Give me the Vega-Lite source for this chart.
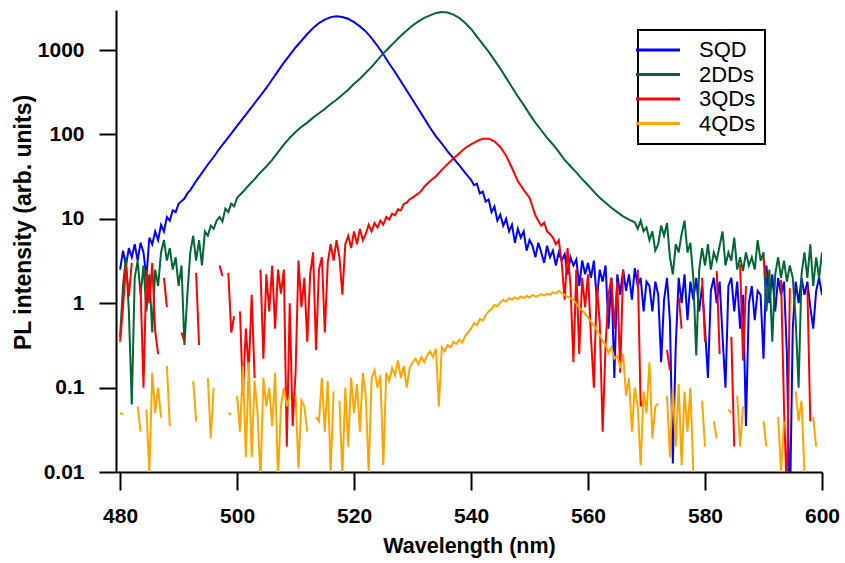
{
"$schema":"https://vega.github.io/schema/vega-lite/v6.json",
"width":706,"height":462,
"autosize":{"type":"none"},
"padding":{"left":116,"top":10,"right":23,"bottom":91},
"background":"white",
"data":{"values":[
{"s":"SQD","w":480,"v":2.5},{"s":"SQD","w":480.5,"v":4.2},{"s":"SQD","w":481,"v":2.8},{"s":"SQD","w":481.5,"v":4.5},{"s":"SQD","w":482,"v":3.5},{"s":"SQD","w":482.5,"v":5.0},{"s":"SQD","w":483,"v":3.2},{"s":"SQD","w":483.5,"v":5.2},{"s":"SQD","w":484,"v":4.0},{"s":"SQD","w":484.5,"v":2.0},{"s":"SQD","w":485,"v":6.0},{"s":"SQD","w":485.5,"v":5.0},{"s":"SQD","w":486,"v":7.1},{"s":"SQD","w":486.5,"v":5.6},{"s":"SQD","w":487,"v":8.5},{"s":"SQD","w":487.5,"v":7.1},{"s":"SQD","w":488,"v":10.5},{"s":"SQD","w":488.5,"v":9.5},{"s":"SQD","w":489,"v":12.6},{"s":"SQD","w":489.5,"v":12.0},{"s":"SQD","w":490,"v":15.1},{"s":"SQD","w":491,"v":17.4},{"s":"SQD","w":491.5,"v":20},{"s":"SQD","w":492,"v":21.9},{"s":"SQD","w":493,"v":28},{"s":"SQD","w":494,"v":35},{"s":"SQD","w":495,"v":44},{"s":"SQD","w":496,"v":54},{"s":"SQD","w":497,"v":68},{"s":"SQD","w":498,"v":83},{"s":"SQD","w":499,"v":102},{"s":"SQD","w":500,"v":126},{"s":"SQD","w":501,"v":155},{"s":"SQD","w":502,"v":190},{"s":"SQD","w":503,"v":234},{"s":"SQD","w":504,"v":288},{"s":"SQD","w":505,"v":355},{"s":"SQD","w":506,"v":447},{"s":"SQD","w":507,"v":562},{"s":"SQD","w":508,"v":708},{"s":"SQD","w":509,"v":871},{"s":"SQD","w":510,"v":1072},{"s":"SQD","w":511,"v":1288},{"s":"SQD","w":512,"v":1549},{"s":"SQD","w":513,"v":1820},{"s":"SQD","w":514,"v":2089},{"s":"SQD","w":515,"v":2291},{"s":"SQD","w":516,"v":2455},{"s":"SQD","w":517,"v":2512},{"s":"SQD","w":518,"v":2455},{"s":"SQD","w":519,"v":2344},{"s":"SQD","w":520,"v":2138},{"s":"SQD","w":521,"v":1905},{"s":"SQD","w":522,"v":1660},{"s":"SQD","w":523,"v":1380},{"s":"SQD","w":524,"v":1122},{"s":"SQD","w":525,"v":891},{"s":"SQD","w":526,"v":692},{"s":"SQD","w":527,"v":550},{"s":"SQD","w":528,"v":427},{"s":"SQD","w":529,"v":331},{"s":"SQD","w":530,"v":257},{"s":"SQD","w":531,"v":200},{"s":"SQD","w":532,"v":155},{"s":"SQD","w":533,"v":120},{"s":"SQD","w":534,"v":95},{"s":"SQD","w":535,"v":78},{"s":"SQD","w":536,"v":63},{"s":"SQD","w":537,"v":52},{"s":"SQD","w":538,"v":43},{"s":"SQD","w":539,"v":35},{"s":"SQD","w":540,"v":29},{"s":"SQD","w":540.5,"v":25},{"s":"SQD","w":541,"v":26},{"s":"SQD","w":541.5,"v":20},{"s":"SQD","w":542,"v":21},{"s":"SQD","w":542.5,"v":16},{"s":"SQD","w":543,"v":17},{"s":"SQD","w":543.5,"v":12},{"s":"SQD","w":544,"v":14},{"s":"SQD","w":544.5,"v":9.5},{"s":"SQD","w":545,"v":11.2},{"s":"SQD","w":545.5,"v":8.3},{"s":"SQD","w":546,"v":10},{"s":"SQD","w":546.5,"v":7.1},{"s":"SQD","w":547,"v":8.5},{"s":"SQD","w":547.5,"v":5.2},{"s":"SQD","w":548,"v":7.6},{"s":"SQD","w":548.5,"v":6.0},{"s":"SQD","w":549,"v":7.1},{"s":"SQD","w":549.5,"v":4.2},{"s":"SQD","w":550,"v":5.6},{"s":"SQD","w":550.5,"v":4.8},{"s":"SQD","w":551,"v":3.5},{"s":"SQD","w":551.5,"v":5.2},{"s":"SQD","w":552,"v":4.0},{"s":"SQD","w":552.5,"v":3.0},{"s":"SQD","w":553,"v":4.8},{"s":"SQD","w":553.5,"v":3.5},{"s":"SQD","w":554,"v":4.2},{"s":"SQD","w":554.5,"v":2.8},{"s":"SQD","w":555,"v":4.0},{"s":"SQD","w":555.5,"v":3.2},{"s":"SQD","w":556,"v":3.8},{"s":"SQD","w":556.5,"v":2.2},{"s":"SQD","w":557,"v":3.5},{"s":"SQD","w":557.5,"v":2.8},{"s":"SQD","w":558,"v":3.3},{"s":"SQD","w":558.5,"v":1.6},{"s":"SQD","w":559,"v":3.2},{"s":"SQD","w":559.5,"v":2.2},{"s":"SQD","w":560,"v":3.0},{"s":"SQD","w":560.5,"v":2.0},{"s":"SQD","w":561,"v":3.2},{"s":"SQD","w":561.5,"v":1.1},{"s":"SQD","w":562,"v":2.5},{"s":"SQD","w":562.5,"v":1.8},{"s":"SQD","w":563,"v":2.8},{"s":"SQD","w":563.5,"v":0.5},{"s":"SQD","w":564,"v":2.0},{"s":"SQD","w":564.5,"v":0.13},{"s":"SQD","w":565,"v":2.2},{"s":"SQD","w":565.5,"v":1.26},{"s":"SQD","w":566,"v":2.5},{"s":"SQD","w":566.5,"v":1.4},{"s":"SQD","w":567,"v":2.2},{"s":"SQD","w":567.5,"v":1.1},{"s":"SQD","w":568,"v":2.6},{"s":"SQD","w":568.5,"v":1.6},{"s":"SQD","w":569,"v":2.0},{"s":"SQD","w":569.5,"v":0.8},{"s":"SQD","w":570,"v":1.8},{"s":"SQD","w":570.5,"v":1.6},{"s":"SQD","w":571,"v":0.8},{"s":"SQD","w":571.5,"v":1.8},{"s":"SQD","w":572,"v":1.26},{"s":"SQD","w":572.5,"v":0.2},{"s":"SQD","w":573,"v":1.1},{"s":"SQD","w":573.5,"v":2.0},{"s":"SQD","w":574,"v":0.63},{"s":"SQD","w":574.5,"v":0.0126},{"s":"SQD","w":575,"v":0.32},{"s":"SQD","w":575.5,"v":2.0},{"s":"SQD","w":576,"v":1.0},{"s":"SQD","w":576.5,"v":2.2},{"s":"SQD","w":577,"v":0.63},{"s":"SQD","w":577.5,"v":1.8},{"s":"SQD","w":578,"v":1.1},{"s":"SQD","w":578.5,"v":2.0},{"s":"SQD","w":579,"v":0.8},{"s":"SQD","w":579.5,"v":1.6},{"s":"SQD","w":580,"v":0.5},{"s":"SQD","w":580.5,"v":0.13},{"s":"SQD","w":581,"v":1.4},{"s":"SQD","w":581.5,"v":2.0},{"s":"SQD","w":582,"v":1.0},{"s":"SQD","w":582.5,"v":1.8},{"s":"SQD","w":583,"v":0.4},{"s":"SQD","w":583.5,"v":0.1},{"s":"SQD","w":584,"v":1.6},{"s":"SQD","w":584.5,"v":2.0},{"s":"SQD","w":585,"v":0.8},{"s":"SQD","w":585.5,"v":1.8},{"s":"SQD","w":586,"v":0.5},{"s":"SQD","w":586.5,"v":1.26},{"s":"SQD","w":587,"v":0.035},{"s":"SQD","w":587.5,"v":1.0},{"s":"SQD","w":588,"v":1.6},{"s":"SQD","w":588.5,"v":0.63},{"s":"SQD","w":589,"v":1.4},{"s":"SQD","w":589.5,"v":1.26},{"s":"SQD","w":590,"v":0.22},{"s":"SQD","w":590.5,"v":2.8},{"s":"SQD","w":591,"v":1.0},{"s":"SQD","w":591.5,"v":2.2},{"s":"SQD","w":592,"v":0.8},{"s":"SQD","w":592.5,"v":2.0},{"s":"SQD","w":593,"v":1.26},{"s":"SQD","w":593.5,"v":1.8},{"s":"SQD","w":594,"v":0.25},{"s":"SQD","w":594.5,"v":0.003},{"s":"SQD","w":595,"v":0.5},{"s":"SQD","w":595.5,"v":1.8},{"s":"SQD","w":596,"v":1.0},{"s":"SQD","w":596.5,"v":2.0},{"s":"SQD","w":597,"v":1.26},{"s":"SQD","w":597.5,"v":1.8},{"s":"SQD","w":598,"v":0.9},{"s":"SQD","w":598.5,"v":0.5},{"s":"SQD","w":599,"v":1.4},{"s":"SQD","w":599.5,"v":2.0},{"s":"SQD","w":600,"v":1.26},
{"s":"2DDs","w":480,"v":0.4},{"s":"2DDs","w":480.5,"v":1.6},{"s":"2DDs","w":481,"v":3.5},{"s":"2DDs","w":481.5,"v":0.8},{"s":"2DDs","w":482,"v":0.063},{"s":"2DDs","w":482.5,"v":2.0},{"s":"2DDs","w":483,"v":3.2},{"s":"2DDs","w":483.5,"v":1.26},{"s":"2DDs","w":484,"v":2.8},{"s":"2DDs","w":484.5,"v":0.8},{"s":"2DDs","w":485,"v":2.2},{"s":"2DDs","w":485.5,"v":0.45},{"s":"2DDs","w":486,"v":2.5},{"s":"2DDs","w":486.5,"v":1.6},{"s":"2DDs","w":487,"v":4.0},{"s":"2DDs","w":487.5,"v":5.6},{"s":"2DDs","w":488,"v":3.2},{"s":"2DDs","w":488.5,"v":4.5},{"s":"2DDs","w":489,"v":2.5},{"s":"2DDs","w":489.5,"v":3.5},{"s":"2DDs","w":490,"v":1.6},{"s":"2DDs","w":490.5,"v":2.8},{"s":"2DDs","w":491,"v":0.32},{"s":"2DDs","w":491.5,"v":1.26},{"s":"2DDs","w":492,"v":4.0},{"s":"2DDs","w":492.5,"v":6.3},{"s":"2DDs","w":493,"v":3.2},{"s":"2DDs","w":493.5,"v":5.6},{"s":"2DDs","w":494,"v":2.8},{"s":"2DDs","w":494.5,"v":7.1},{"s":"2DDs","w":495,"v":6.3},{"s":"2DDs","w":495.5,"v":8.3},{"s":"2DDs","w":496,"v":7.6},{"s":"2DDs","w":496.5,"v":9.5},{"s":"2DDs","w":497,"v":10.5},{"s":"2DDs","w":497.5,"v":9.3},{"s":"2DDs","w":498,"v":13.2},{"s":"2DDs","w":498.5,"v":12.0},{"s":"2DDs","w":499,"v":15.1},{"s":"2DDs","w":499.5,"v":14.1},{"s":"2DDs","w":500,"v":17.8},{"s":"2DDs","w":501,"v":20.9},{"s":"2DDs","w":502,"v":25},{"s":"2DDs","w":503,"v":29.5},{"s":"2DDs","w":504,"v":35.5},{"s":"2DDs","w":505,"v":41.7},{"s":"2DDs","w":506,"v":50},{"s":"2DDs","w":507,"v":61.7},{"s":"2DDs","w":508,"v":75.9},{"s":"2DDs","w":509,"v":91},{"s":"2DDs","w":510,"v":107},{"s":"2DDs","w":511,"v":123},{"s":"2DDs","w":512,"v":138},{"s":"2DDs","w":513,"v":158},{"s":"2DDs","w":514,"v":178},{"s":"2DDs","w":515,"v":200},{"s":"2DDs","w":516,"v":229},{"s":"2DDs","w":517,"v":257},{"s":"2DDs","w":518,"v":295},{"s":"2DDs","w":519,"v":339},{"s":"2DDs","w":520,"v":398},{"s":"2DDs","w":521,"v":457},{"s":"2DDs","w":522,"v":537},{"s":"2DDs","w":523,"v":631},{"s":"2DDs","w":524,"v":759},{"s":"2DDs","w":525,"v":912},{"s":"2DDs","w":526,"v":1072},{"s":"2DDs","w":527,"v":1259},{"s":"2DDs","w":528,"v":1479},{"s":"2DDs","w":529,"v":1698},{"s":"2DDs","w":530,"v":1950},{"s":"2DDs","w":531,"v":2188},{"s":"2DDs","w":532,"v":2399},{"s":"2DDs","w":533,"v":2570},{"s":"2DDs","w":534,"v":2754},{"s":"2DDs","w":535,"v":2818},{"s":"2DDs","w":536,"v":2786},{"s":"2DDs","w":537,"v":2630},{"s":"2DDs","w":538,"v":2399},{"s":"2DDs","w":539,"v":2089},{"s":"2DDs","w":540,"v":1778},{"s":"2DDs","w":541,"v":1445},{"s":"2DDs","w":542,"v":1175},{"s":"2DDs","w":543,"v":955},{"s":"2DDs","w":544,"v":759},{"s":"2DDs","w":545,"v":603},{"s":"2DDs","w":546,"v":468},{"s":"2DDs","w":547,"v":363},{"s":"2DDs","w":548,"v":282},{"s":"2DDs","w":549,"v":224},{"s":"2DDs","w":550,"v":174},{"s":"2DDs","w":551,"v":138},{"s":"2DDs","w":552,"v":112},{"s":"2DDs","w":553,"v":91},{"s":"2DDs","w":554,"v":76},{"s":"2DDs","w":555,"v":62},{"s":"2DDs","w":556,"v":50},{"s":"2DDs","w":557,"v":42},{"s":"2DDs","w":558,"v":35.5},{"s":"2DDs","w":559,"v":29.5},{"s":"2DDs","w":560,"v":25},{"s":"2DDs","w":561,"v":21},{"s":"2DDs","w":562,"v":17.8},{"s":"2DDs","w":563,"v":15.5},{"s":"2DDs","w":564,"v":13.5},{"s":"2DDs","w":565,"v":12},{"s":"2DDs","w":566,"v":10.7},{"s":"2DDs","w":567,"v":9.8},{"s":"2DDs","w":568,"v":9.1},{"s":"2DDs","w":568.5,"v":7.6},{"s":"2DDs","w":569,"v":9.5},{"s":"2DDs","w":569.5,"v":7.1},{"s":"2DDs","w":570,"v":7.9},{"s":"2DDs","w":570.5,"v":5.6},{"s":"2DDs","w":571,"v":7.1},{"s":"2DDs","w":571.5,"v":4.2},{"s":"2DDs","w":572,"v":5.0},{"s":"2DDs","w":572.5,"v":8.3},{"s":"2DDs","w":573,"v":6.3},{"s":"2DDs","w":573.5,"v":8.9},{"s":"2DDs","w":574,"v":3.5},{"s":"2DDs","w":574.5,"v":2.2},{"s":"2DDs","w":575,"v":5.0},{"s":"2DDs","w":575.5,"v":4.0},{"s":"2DDs","w":576,"v":6.6},{"s":"2DDs","w":576.5,"v":9.5},{"s":"2DDs","w":577,"v":4.0},{"s":"2DDs","w":577.5,"v":5.2},{"s":"2DDs","w":578,"v":2.0},{"s":"2DDs","w":578.5,"v":0.24},{"s":"2DDs","w":579,"v":2.5},{"s":"2DDs","w":579.5,"v":4.5},{"s":"2DDs","w":580,"v":2.8},{"s":"2DDs","w":580.5,"v":5.0},{"s":"2DDs","w":581,"v":2.5},{"s":"2DDs","w":581.5,"v":4.0},{"s":"2DDs","w":582,"v":3.2},{"s":"2DDs","w":582.5,"v":4.8},{"s":"2DDs","w":583,"v":7.1},{"s":"2DDs","w":583.5,"v":2.8},{"s":"2DDs","w":584,"v":4.0},{"s":"2DDs","w":584.5,"v":3.2},{"s":"2DDs","w":585,"v":6.0},{"s":"2DDs","w":585.5,"v":2.5},{"s":"2DDs","w":586,"v":3.5},{"s":"2DDs","w":586.5,"v":2.4},{"s":"2DDs","w":587,"v":4.0},{"s":"2DDs","w":587.5,"v":2.8},{"s":"2DDs","w":588,"v":3.5},{"s":"2DDs","w":588.5,"v":2.5},{"s":"2DDs","w":589,"v":5.6},{"s":"2DDs","w":589.5,"v":3.2},{"s":"2DDs","w":590,"v":4.0},{"s":"2DDs","w":590.5,"v":0.8},{"s":"2DDs","w":591,"v":2.5},{"s":"2DDs","w":591.5,"v":0.35},{"s":"2DDs","w":592,"v":2.2},{"s":"2DDs","w":592.5,"v":3.5},{"s":"2DDs","w":593,"v":2.0},{"s":"2DDs","w":593.5,"v":3.2},{"s":"2DDs","w":594,"v":1.8},{"s":"2DDs","w":594.5,"v":2.8},{"s":"2DDs","w":595,"v":2.0},{"s":"2DDs","w":595.5,"v":0.63},{"s":"2DDs","w":596,"v":0.1},{"s":"2DDs","w":596.5,"v":2.2},{"s":"2DDs","w":597,"v":4.0},{"s":"2DDs","w":597.5,"v":2.0},{"s":"2DDs","w":598,"v":5.0},{"s":"2DDs","w":598.5,"v":1.6},{"s":"2DDs","w":599,"v":3.5},{"s":"2DDs","w":599.5,"v":2.0},{"s":"2DDs","w":600,"v":4.0},
{"s":"3QDs","w":480,"v":0.35},{"s":"3QDs","w":480.5,"v":0.9},{"s":"3QDs","w":481,"v":2.8},{"s":"3QDs","w":481.5,"v":1.2},{"s":"3QDs","w":482,"v":3.0},{"s":"3QDs","w":482.5,"v":null},{"s":"3QDs","w":483.5,"v":1.6},{"s":"3QDs","w":484,"v":0.1},{"s":"3QDs","w":484.5,"v":2.5},{"s":"3QDs","w":485,"v":1.0},{"s":"3QDs","w":485.5,"v":3.0},{"s":"3QDs","w":486,"v":0.47},{"s":"3QDs","w":486.5,"v":0.25},{"s":"3QDs","w":487,"v":null},{"s":"3QDs","w":487.5,"v":2.0},{"s":"3QDs","w":488,"v":0.9},{"s":"3QDs","w":488.5,"v":null},{"s":"3QDs","w":490.5,"v":0.45},{"s":"3QDs","w":491,"v":0.35},{"s":"3QDs","w":491.5,"v":null},{"s":"3QDs","w":493,"v":2.3},{"s":"3QDs","w":493.5,"v":0.32},{"s":"3QDs","w":494,"v":null},{"s":"3QDs","w":497,"v":2.8},{"s":"3QDs","w":497.5,"v":2.1},{"s":"3QDs","w":498,"v":null},{"s":"3QDs","w":498.5,"v":2.3},{"s":"3QDs","w":499,"v":0.45},{"s":"3QDs","w":499.5,"v":0.7},{"s":"3QDs","w":500,"v":null},{"s":"3QDs","w":500.5,"v":0.8},{"s":"3QDs","w":501,"v":0.08},{"s":"3QDs","w":501.5,"v":0.5},{"s":"3QDs","w":502,"v":0.16},{"s":"3QDs","w":502.5,"v":1.26},{"s":"3QDs","w":503,"v":0.13},{"s":"3QDs","w":503.5,"v":null},{"s":"3QDs","w":504,"v":2.5},{"s":"3QDs","w":504.5,"v":0.22},{"s":"3QDs","w":505,"v":2.2},{"s":"3QDs","w":505.5,"v":0.8},{"s":"3QDs","w":506,"v":2.8},{"s":"3QDs","w":506.5,"v":0.5},{"s":"3QDs","w":507,"v":2.5},{"s":"3QDs","w":507.5,"v":1.3},{"s":"3QDs","w":508,"v":2.5},{"s":"3QDs","w":508.5,"v":0.02},{"s":"3QDs","w":509,"v":1.0},{"s":"3QDs","w":509.5,"v":0.035},{"s":"3QDs","w":510,"v":0.15},{"s":"3QDs","w":510.5,"v":3.2},{"s":"3QDs","w":511,"v":0.9},{"s":"3QDs","w":511.5,"v":2.0},{"s":"3QDs","w":512,"v":0.35},{"s":"3QDs","w":512.5,"v":2.2},{"s":"3QDs","w":513,"v":4.0},{"s":"3QDs","w":513.5,"v":0.28},{"s":"3QDs","w":514,"v":2.5},{"s":"3QDs","w":514.5,"v":3.5},{"s":"3QDs","w":515,"v":0.45},{"s":"3QDs","w":515.5,"v":3.0},{"s":"3QDs","w":516,"v":5.0},{"s":"3QDs","w":516.5,"v":3.2},{"s":"3QDs","w":517,"v":5.6},{"s":"3QDs","w":517.5,"v":3.5},{"s":"3QDs","w":518,"v":1.26},{"s":"3QDs","w":518.5,"v":5.0},{"s":"3QDs","w":519,"v":6.3},{"s":"3QDs","w":519.5,"v":4.5},{"s":"3QDs","w":520,"v":7.1},{"s":"3QDs","w":520.5,"v":5.0},{"s":"3QDs","w":521,"v":7.6},{"s":"3QDs","w":521.5,"v":5.6},{"s":"3QDs","w":522,"v":6.6},{"s":"3QDs","w":522.5,"v":8.5},{"s":"3QDs","w":523,"v":7.1},{"s":"3QDs","w":523.5,"v":8.9},{"s":"3QDs","w":524,"v":7.9},{"s":"3QDs","w":524.5,"v":9.5},{"s":"3QDs","w":525,"v":8.5},{"s":"3QDs","w":525.5,"v":10.5},{"s":"3QDs","w":526,"v":9.8},{"s":"3QDs","w":526.5,"v":11.5},{"s":"3QDs","w":527,"v":11},{"s":"3QDs","w":527.5,"v":13},{"s":"3QDs","w":528,"v":12.6},{"s":"3QDs","w":528.5,"v":15},{"s":"3QDs","w":529,"v":15.5},{"s":"3QDs","w":529.5,"v":17},{"s":"3QDs","w":530,"v":17.8},{"s":"3QDs","w":531,"v":20},{"s":"3QDs","w":531.5,"v":21.4},{"s":"3QDs","w":532,"v":24},{"s":"3QDs","w":533,"v":28},{"s":"3QDs","w":534,"v":32},{"s":"3QDs","w":535,"v":38},{"s":"3QDs","w":536,"v":44.7},{"s":"3QDs","w":537,"v":52},{"s":"3QDs","w":538,"v":60},{"s":"3QDs","w":539,"v":69},{"s":"3QDs","w":540,"v":76},{"s":"3QDs","w":541,"v":83},{"s":"3QDs","w":542,"v":89},{"s":"3QDs","w":543,"v":89},{"s":"3QDs","w":544,"v":83},{"s":"3QDs","w":545,"v":71},{"s":"3QDs","w":546,"v":56},{"s":"3QDs","w":547,"v":40},{"s":"3QDs","w":548,"v":28},{"s":"3QDs","w":549,"v":22},{"s":"3QDs","w":550,"v":17.8},{"s":"3QDs","w":550.5,"v":14},{"s":"3QDs","w":551,"v":11},{"s":"3QDs","w":551.5,"v":9.5},{"s":"3QDs","w":552,"v":8.3},{"s":"3QDs","w":552.5,"v":9.0},{"s":"3QDs","w":553,"v":7.1},{"s":"3QDs","w":553.5,"v":6.6},{"s":"3QDs","w":554,"v":6.0},{"s":"3QDs","w":554.5,"v":5.0},{"s":"3QDs","w":555,"v":5.6},{"s":"3QDs","w":555.5,"v":3.0},{"s":"3QDs","w":556,"v":1.1},{"s":"3QDs","w":556.5,"v":4.5},{"s":"3QDs","w":557,"v":1.6},{"s":"3QDs","w":557.5,"v":0.2},{"s":"3QDs","w":558,"v":2.5},{"s":"3QDs","w":558.5,"v":0.25},{"s":"3QDs","w":559,"v":2.0},{"s":"3QDs","w":559.5,"v":0.9},{"s":"3QDs","w":560,"v":2.2},{"s":"3QDs","w":560.5,"v":0.4},{"s":"3QDs","w":561,"v":0.1},{"s":"3QDs","w":561.5,"v":1.6},{"s":"3QDs","w":562,"v":0.6},{"s":"3QDs","w":562.5,"v":0.03},{"s":"3QDs","w":563,"v":0.32},{"s":"3QDs","w":563.5,"v":1.26},{"s":"3QDs","w":564,"v":2.0},{"s":"3QDs","w":564.5,"v":0.5},{"s":"3QDs","w":565,"v":1.8},{"s":"3QDs","w":565.5,"v":0.15},{"s":"3QDs","w":566,"v":2.5},{"s":"3QDs","w":566.5,"v":null},{"s":"3QDs","w":568.5,"v":2.5},{"s":"3QDs","w":569,"v":0.06},{"s":"3QDs","w":569.5,"v":0.07},{"s":"3QDs","w":570,"v":null},{"s":"3QDs","w":573.5,"v":0.28},{"s":"3QDs","w":574,"v":0.16},{"s":"3QDs","w":574.5,"v":null},{"s":"3QDs","w":575.5,"v":1.2},{"s":"3QDs","w":576,"v":0.5},{"s":"3QDs","w":576.5,"v":null},{"s":"3QDs","w":579.5,"v":2.0},{"s":"3QDs","w":580,"v":0.35},{"s":"3QDs","w":580.5,"v":null},{"s":"3QDs","w":582,"v":2.4},{"s":"3QDs","w":582.5,"v":0.25},{"s":"3QDs","w":583,"v":null},{"s":"3QDs","w":584.5,"v":0.4},{"s":"3QDs","w":585,"v":0.02},{"s":"3QDs","w":585.5,"v":null},{"s":"3QDs","w":586,"v":2.9},{"s":"3QDs","w":586.5,"v":0.21},{"s":"3QDs","w":587,"v":1.6},{"s":"3QDs","w":587.5,"v":null},{"s":"3QDs","w":590,"v":3.4},{"s":"3QDs","w":590.5,"v":2.0},{"s":"3QDs","w":591,"v":null},{"s":"3QDs","w":593,"v":1.9},{"s":"3QDs","w":593.5,"v":0.06},{"s":"3QDs","w":594,"v":0.005},{"s":"3QDs","w":594.5,"v":1.5},{"s":"3QDs","w":595,"v":null},{"s":"3QDs","w":597.5,"v":1.55},{"s":"3QDs","w":598,"v":0.04},{"s":"3QDs","w":598.5,"v":null},
{"s":"4QDs","w":480,"v":0.05},{"s":"4QDs","w":480.5,"v":0.048},{"s":"4QDs","w":481,"v":null},{"s":"4QDs","w":483,"v":0.06},{"s":"4QDs","w":483.5,"v":0.03},{"s":"4QDs","w":484,"v":null},{"s":"4QDs","w":484.5,"v":0.055},{"s":"4QDs","w":485,"v":0.01},{"s":"4QDs","w":485.5,"v":0.15},{"s":"4QDs","w":486,"v":0.05},{"s":"4QDs","w":486.5,"v":0.1},{"s":"4QDs","w":487,"v":0.044},{"s":"4QDs","w":487.5,"v":null},{"s":"4QDs","w":488,"v":0.18},{"s":"4QDs","w":488.5,"v":0.035},{"s":"4QDs","w":489,"v":null},{"s":"4QDs","w":492.5,"v":0.12},{"s":"4QDs","w":493,"v":0.04},{"s":"4QDs","w":493.5,"v":null},{"s":"4QDs","w":495,"v":0.13},{"s":"4QDs","w":495.5,"v":0.025},{"s":"4QDs","w":496,"v":0.1},{"s":"4QDs","w":496.5,"v":null},{"s":"4QDs","w":498.5,"v":0.05},{"s":"4QDs","w":499,"v":0.048},{"s":"4QDs","w":499.5,"v":null},{"s":"4QDs","w":500,"v":0.08},{"s":"4QDs","w":500.5,"v":0.03},{"s":"4QDs","w":501,"v":0.18},{"s":"4QDs","w":501.5,"v":0.015},{"s":"4QDs","w":502,"v":0.2},{"s":"4QDs","w":502.5,"v":0.015},{"s":"4QDs","w":503,"v":0.12},{"s":"4QDs","w":503.5,"v":0.05},{"s":"4QDs","w":504,"v":0.008},{"s":"4QDs","w":504.5,"v":0.13},{"s":"4QDs","w":505,"v":0.06},{"s":"4QDs","w":505.5,"v":0.1},{"s":"4QDs","w":506,"v":0.035},{"s":"4QDs","w":506.5,"v":0.15},{"s":"4QDs","w":507,"v":0.008},{"s":"4QDs","w":507.5,"v":0.06},{"s":"4QDs","w":508,"v":0.1},{"s":"4QDs","w":508.5,"v":0.06},{"s":"4QDs","w":509,"v":0.08},{"s":"4QDs","w":509.5,"v":null},{"s":"4QDs","w":510,"v":0.08},{"s":"4QDs","w":510.5,"v":0.011},{"s":"4QDs","w":511,"v":0.07},{"s":"4QDs","w":511.5,"v":0.06},{"s":"4QDs","w":512,"v":0.03},{"s":"4QDs","w":512.5,"v":null},{"s":"4QDs","w":513.5,"v":0.045},{"s":"4QDs","w":514,"v":0.04},{"s":"4QDs","w":514.5,"v":0.13},{"s":"4QDs","w":515,"v":0.03},{"s":"4QDs","w":515.5,"v":0.12},{"s":"4QDs","w":516,"v":0.01},{"s":"4QDs","w":516.5,"v":0.09},{"s":"4QDs","w":517,"v":null},{"s":"4QDs","w":517.5,"v":0.07},{"s":"4QDs","w":518,"v":0.009},{"s":"4QDs","w":518.5,"v":0.1},{"s":"4QDs","w":519,"v":0.02},{"s":"4QDs","w":519.5,"v":0.13},{"s":"4QDs","w":520,"v":0.05},{"s":"4QDs","w":520.5,"v":0.11},{"s":"4QDs","w":521,"v":0.03},{"s":"4QDs","w":521.5,"v":0.15},{"s":"4QDs","w":522,"v":0.08},{"s":"4QDs","w":522.5,"v":0.01},{"s":"4QDs","w":523,"v":0.13},{"s":"4QDs","w":523.5,"v":0.16},{"s":"4QDs","w":524,"v":0.1},{"s":"4QDs","w":524.5,"v":0.14},{"s":"4QDs","w":525,"v":0.012},{"s":"4QDs","w":525.5,"v":0.15},{"s":"4QDs","w":526,"v":0.12},{"s":"4QDs","w":526.5,"v":0.17},{"s":"4QDs","w":527,"v":0.14},{"s":"4QDs","w":527.5,"v":0.21},{"s":"4QDs","w":528,"v":0.13},{"s":"4QDs","w":528.5,"v":0.18},{"s":"4QDs","w":529,"v":0.1},{"s":"4QDs","w":529.5,"v":0.17},{"s":"4QDs","w":530,"v":0.2},{"s":"4QDs","w":530.5,"v":0.22},{"s":"4QDs","w":531,"v":0.19},{"s":"4QDs","w":531.5,"v":0.23},{"s":"4QDs","w":532,"v":0.2},{"s":"4QDs","w":532.5,"v":0.24},{"s":"4QDs","w":533,"v":0.27},{"s":"4QDs","w":533.5,"v":0.23},{"s":"4QDs","w":534,"v":0.29},{"s":"4QDs","w":534.5,"v":0.06},{"s":"4QDs","w":535,"v":0.3},{"s":"4QDs","w":535.5,"v":0.27},{"s":"4QDs","w":536,"v":0.32},{"s":"4QDs","w":536.5,"v":0.3},{"s":"4QDs","w":537,"v":0.35},{"s":"4QDs","w":537.5,"v":0.33},{"s":"4QDs","w":538,"v":0.37},{"s":"4QDs","w":538.5,"v":0.34},{"s":"4QDs","w":539,"v":0.41},{"s":"4QDs","w":539.5,"v":0.45},{"s":"4QDs","w":540,"v":0.5},{"s":"4QDs","w":540.5,"v":0.58},{"s":"4QDs","w":541,"v":0.55},{"s":"4QDs","w":541.5,"v":0.65},{"s":"4QDs","w":542,"v":0.62},{"s":"4QDs","w":542.5,"v":0.72},{"s":"4QDs","w":543,"v":0.8},{"s":"4QDs","w":543.5,"v":0.85},{"s":"4QDs","w":544,"v":0.95},{"s":"4QDs","w":544.5,"v":0.92},{"s":"4QDs","w":545,"v":1.02},{"s":"4QDs","w":545.5,"v":1.1},{"s":"4QDs","w":546,"v":1.05},{"s":"4QDs","w":546.5,"v":1.15},{"s":"4QDs","w":547,"v":1.1},{"s":"4QDs","w":547.5,"v":1.17},{"s":"4QDs","w":548,"v":1.12},{"s":"4QDs","w":548.5,"v":1.2},{"s":"4QDs","w":549,"v":1.15},{"s":"4QDs","w":549.5,"v":1.22},{"s":"4QDs","w":550,"v":1.17},{"s":"4QDs","w":550.5,"v":1.25},{"s":"4QDs","w":551,"v":1.2},{"s":"4QDs","w":551.5,"v":1.22},{"s":"4QDs","w":552,"v":1.28},{"s":"4QDs","w":552.5,"v":1.23},{"s":"4QDs","w":553,"v":1.3},{"s":"4QDs","w":553.5,"v":1.26},{"s":"4QDs","w":554,"v":1.35},{"s":"4QDs","w":554.5,"v":1.3},{"s":"4QDs","w":555,"v":1.4},{"s":"4QDs","w":555.5,"v":1.32},{"s":"4QDs","w":556,"v":1.25},{"s":"4QDs","w":556.5,"v":1.2},{"s":"4QDs","w":557,"v":1.15},{"s":"4QDs","w":557.5,"v":1.1},{"s":"4QDs","w":558,"v":0.98},{"s":"4QDs","w":558.5,"v":0.9},{"s":"4QDs","w":559,"v":0.82},{"s":"4QDs","w":559.5,"v":0.75},{"s":"4QDs","w":560,"v":0.68},{"s":"4QDs","w":560.5,"v":0.6},{"s":"4QDs","w":561,"v":0.55},{"s":"4QDs","w":561.5,"v":0.48},{"s":"4QDs","w":562,"v":0.42},{"s":"4QDs","w":562.5,"v":0.36},{"s":"4QDs","w":563,"v":0.32},{"s":"4QDs","w":563.5,"v":0.26},{"s":"4QDs","w":564,"v":0.3},{"s":"4QDs","w":564.5,"v":0.22},{"s":"4QDs","w":565,"v":0.24},{"s":"4QDs","w":565.5,"v":0.17},{"s":"4QDs","w":566,"v":0.25},{"s":"4QDs","w":566.5,"v":0.08},{"s":"4QDs","w":567,"v":0.13},{"s":"4QDs","w":567.5,"v":0.03},{"s":"4QDs","w":568,"v":0.1},{"s":"4QDs","w":568.5,"v":0.06},{"s":"4QDs","w":569,"v":0.012},{"s":"4QDs","w":569.5,"v":0.09},{"s":"4QDs","w":570,"v":0.05},{"s":"4QDs","w":570.5,"v":0.2},{"s":"4QDs","w":571,"v":0.025},{"s":"4QDs","w":571.5,"v":0.06},{"s":"4QDs","w":572,"v":0.065},{"s":"4QDs","w":572.5,"v":null},{"s":"4QDs","w":573.5,"v":0.08},{"s":"4QDs","w":574,"v":0.015},{"s":"4QDs","w":574.5,"v":0.1},{"s":"4QDs","w":575,"v":0.02},{"s":"4QDs","w":575.5,"v":0.11},{"s":"4QDs","w":576,"v":0.012},{"s":"4QDs","w":576.5,"v":0.09},{"s":"4QDs","w":577,"v":0.03},{"s":"4QDs","w":577.5,"v":0.1},{"s":"4QDs","w":578,"v":0.01},{"s":"4QDs","w":578.5,"v":null},{"s":"4QDs","w":579.5,"v":0.07},{"s":"4QDs","w":580,"v":0.02},{"s":"4QDs","w":580.5,"v":null},{"s":"4QDs","w":581.5,"v":0.04},{"s":"4QDs","w":582,"v":0.025},{"s":"4QDs","w":582.5,"v":null},{"s":"4QDs","w":584,"v":0.055},{"s":"4QDs","w":584.5,"v":0.05},{"s":"4QDs","w":585,"v":null},{"s":"4QDs","w":585.5,"v":0.08},{"s":"4QDs","w":586,"v":0.02},{"s":"4QDs","w":586.5,"v":0.06},{"s":"4QDs","w":587,"v":null},{"s":"4QDs","w":590,"v":0.04},{"s":"4QDs","w":590.5,"v":0.02},{"s":"4QDs","w":591,"v":null},{"s":"4QDs","w":592.5,"v":0.045},{"s":"4QDs","w":593,"v":0.01},{"s":"4QDs","w":593.5,"v":0.04},{"s":"4QDs","w":594,"v":null},{"s":"4QDs","w":595.5,"v":0.09},{"s":"4QDs","w":596,"v":0.04},{"s":"4QDs","w":596.5,"v":0.07},{"s":"4QDs","w":597,"v":0.01},{"s":"4QDs","w":597.5,"v":null},{"s":"4QDs","w":598.5,"v":0.045},{"s":"4QDs","w":599,"v":0.02},{"s":"4QDs","w":599.5,"v":null}
]},
"mark":{"type":"line","strokeWidth":2,"clip":true},
"encoding":{
"x":{"field":"w","type":"quantitative","scale":{"domain":[479.3,600],"nice":false,"zero":false},
"axis":{"title":"Wavelength (nm)","values":[480,500,520,540,560,580,600],"format":"d","labelFlush":false,"grid":false,"domainColor":"black","domainWidth":2,"tickColor":"black","tickWidth":2,"tickSize":18,"labelFont":"Liberation Sans","labelFontSize":21,"labelFontWeight":"bold","labelColor":"black","labelPadding":15,"titleFont":"Liberation Sans","titleFontSize":21.5,"titleFontWeight":"bold","titleColor":"black","titlePadding":9}},
"y":{"field":"v","type":"quantitative","scale":{"type":"log","domain":[0.01,2980],"nice":false},
"axis":{"title":"PL intensity (arb. units)","values":[0.01,0.1,1,10,100,1000],"format":"~g","grid":false,"domainColor":"black","domainWidth":2,"tickColor":"black","tickWidth":2,"tickSize":17,"labelFont":"Liberation Sans","labelFontSize":21,"labelFontWeight":"bold","labelColor":"black","labelPadding":15,"titleFont":"Liberation Sans","titleFontSize":23,"titleFontWeight":"bold","titleColor":"black","titleX":-81,"titleY":212}},
"color":{"field":"s","type":"nominal","sort":["SQD","2DDs","3QDs","4QDs"],"scale":{"domain":["SQD","2DDs","3QDs","4QDs"],"range":["#0000FF","#006633","#FF0000","#FFA500"]},
"legend":{"title":null,"orient":"none","legendX":522,"legendY":20,"symbolType":"M-4,0H4","symbolSize":121,"symbolStrokeWidth":3,"labelFont":"Liberation Sans","labelFontSize":22,"labelColor":"black","labelOffset":30,"rowPadding":2.5,"padding":9,"strokeColor":"black","fillColor":"white","cornerRadius":0}}
},
"config":{"view":{"stroke":null},"legend":{"strokeWidth":2}}
}
